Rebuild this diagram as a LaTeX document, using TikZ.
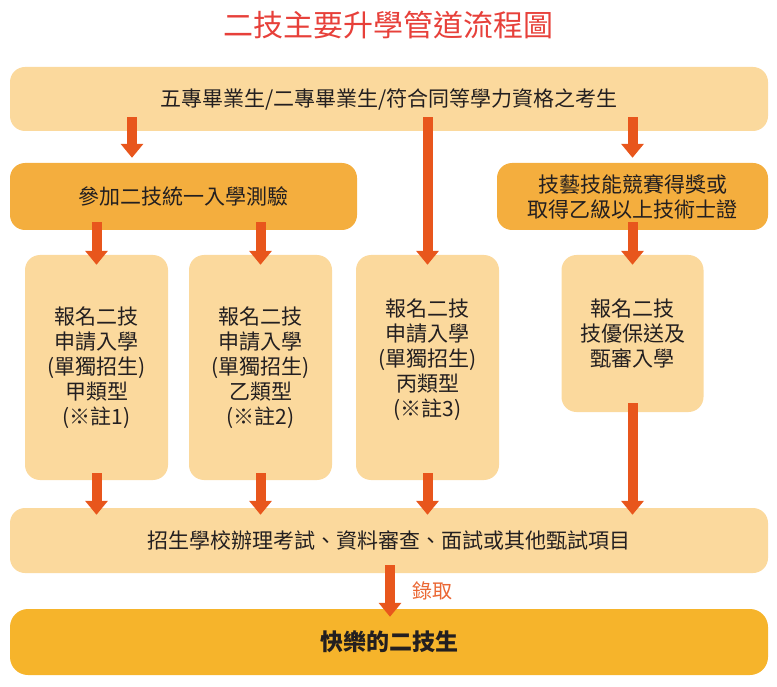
\documentclass[tikz,border=0pt]{standalone}
\usepackage{fontspec}
\newfontfamily\cjk{Noto Sans CJK TC}
\usetikzlibrary{arrows.meta}
\definecolor{paleorange}{HTML}{FBD99D}
\definecolor{midorange}{HTML}{F4AE3E}
\definecolor{deeporange}{HTML}{F6B42B}
\definecolor{arrowred}{HTML}{E8561C}
\definecolor{titlered}{HTML}{E7403A}
\definecolor{ink}{HTML}{231F20}

\begin{document}
\begin{tikzpicture}[x=1pt,y=-1pt,
  box/.style={rounded corners=15pt,text=ink,align=center,inner sep=0pt,font=\cjk\fontsize{21}{25}\selectfont},
  palebox/.style={box,fill=paleorange},
  midbox/.style={box,fill=midorange},
  flow/.style={draw=arrowred,line width=10pt,-{Triangle[width=22pt,length=14pt]}}]
\useasboundingbox (0,0) rectangle (777,687);
\node[font=\cjk\fontsize{30}{36}\selectfont,text=titlered] (title) at (388,25) {二技主要升學管道流程圖};
\node[palebox,minimum width=758pt,minimum height=64pt] (students) at (389,99) {五專畢業生/二專畢業生/符合同等學力資格之考生};
\node[midbox,minimum width=347pt,minimum height=67pt] (exam) at (183.5,196.5) {參加二技統一入學測驗};
\node[midbox,minimum width=271pt,minimum height=67pt] (skill) at (632.5,196.5) {技藝技能競賽得獎或\\取得乙級以上技術士證};
\node[palebox,minimum width=143pt,minimum height=225pt] (type1) at (96.5,367.5) {報名二技\\申請入學\\(單獨招生)\\甲類型\\(※註1)};
\node[palebox,minimum width=143pt,minimum height=225pt] (type2) at (260.5,367.5) {報名二技\\申請入學\\(單獨招生)\\乙類型\\(※註2)};
\node[palebox,minimum width=143pt,minimum height=225pt] (type3) at (427.5,367.5) {報名二技\\申請入學\\(單獨招生)\\丙類型\\(※註3)\\[-5pt]};
\node[palebox,minimum width=142pt,minimum height=157pt] (talent) at (632.5,333.5) {報名二技\\技優保送及\\甄審入學};
\node[palebox,minimum width=758pt,minimum height=65pt] (schools) at (389,540.5) {招生學校辦理考試、資料審查、面試或其他甄試項目};
\node[box,fill=deeporange,rounded corners=18pt,minimum width=758pt,minimum height=66pt,font=\cjk\bfseries\fontsize{23}{28}\selectfont] (happy) at (389,642) {快樂的二技生};
\coordinate (split) at (132,0);
\coordinate (admit) at (390,0);
\draw[flow] ([yshift=14pt]students.south -| split) -- ([yshift=5pt]exam.north -| split);
\draw[flow] ([yshift=14pt]students.south -| type3.north) -- ([yshift=-10pt]type3.north);
\draw[flow] ([yshift=14pt]students.south -| skill.north) -- ([yshift=5pt]skill.north);
\draw[flow] ([yshift=8pt]exam.south -| type1.north) -- ([yshift=-10pt]type1.north);
\draw[flow] ([yshift=8pt]exam.south -| type2.north) -- ([yshift=-10pt]type2.north);
\draw[flow] ([yshift=8pt]skill.south) -- ([yshift=-10pt]talent.north -| skill.south);
\foreach \b in {type1,type2,type3}
  \draw[flow] ([yshift=7pt]\b.south) -- ([yshift=-7pt]schools.north -| \b.south);
\draw[flow] ([yshift=9pt]talent.south -| skill.south) -- ([yshift=-7pt]schools.north -| skill.south);
\draw[flow] ([yshift=8pt]schools.south -| admit) -- ([yshift=-8pt]happy.north -| admit) node[midway,right=17pt,inner sep=0pt,text=arrowred!90!white,font=\cjk\fontsize{20}{24}\selectfont] (admitlabel) {錄取};
\end{tikzpicture}
\end{document}
